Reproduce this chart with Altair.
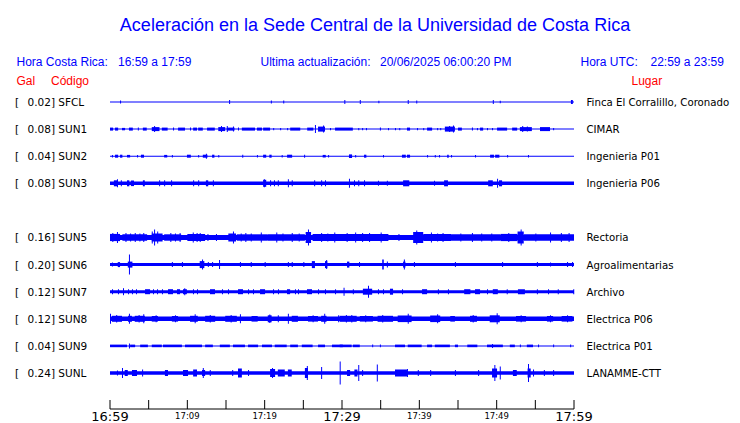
import altair as alt
import pandas as pd

# ---------------- texts ----------------
TITLE = "Aceleración en la Sede Central de la Universidad de Costa Rica"
HORA_CR = "Hora Costa Rica:"
HORA_CR_VAL = "16:59 a 17:59"
UPDATE = "Ultima actualización:"
UPDATE_VAL = "20/06/2025 06:00:20 PM"
HORA_UTC = "Hora UTC:"
HORA_UTC_VAL = "22:59 a 23:59"

# ---------------- stations ----------------
codes = ["SFCL", "SUN1", "SUN2", "SUN3", "SUN5", "SUN6", "SUN7", "SUN8", "SUN9", "SUNL"]
rows = [0, 1, 2, 3, 5, 6, 7, 8, 9, 10]
gal = ["0.02", "0.08", "0.04", "0.08", "0.16", "0.20", "0.12", "0.12", "0.04", "0.24"]
places = ["Finca El Corralillo, Coronado", "CIMAR", "Ingenieria P01", "Ingenieria P06",
          "Rectoria", "Agroalimentarias", "Archivo", "Electrica P06", "Electrica P01",
          "LANAMME-CTT"]
# background noise half-amplitude of each trace (display units)
base_amp = [0.5, 0.5, 0.5, 1.7, 2.6, 1.5, 1.5, 2.2, 0.5, 1.7]

# bursts: (minute after 16:59, duration in minutes, half-amplitude)
sfcl_bursts = [(1.3, 0.13, 1.5), (15.4, 0.13, 2), (20.8, 0.13, 1.5), (22.4, 0.13, 1.5),
               (30.3, 0.13, 2), (32.3, 0.13, 2), (34.7, 0.13, 1.2), (38.5, 0.13, 2),
               (39.6, 0.13, 1.5), (49.5, 0.13, 2), (50.4, 0.13, 1.2), (59.6, 0.25, 2)]
sun1_bursts = [(0.0, 0.4, 1.5), (0.65, 0.4, 1.5), (1.55, 0.4, 1.2), (2.45, 0.5, 1.5), (3.6, 0.13, 1.5),
               (4.25, 0.5, 1.5), (5.4, 1.0, 2), (5.7, 0.13, 3), (6.7, 0.75, 1.5), (8.15, 0.13, 1.5),
               (8.8, 0.9, 1.5), (10.35, 0.13, 1.5), (10.75, 0.5, 1.5), (11.4, 0.6, 1.5), (12.55, 1.0, 1.5),
               (14.0, 0.9, 2), (14.35, 0.13, 3), (15.1, 1.0, 1.5), (15.1, 0.13, 3), (15.9, 0.13, 2.5),
               (16.55, 0.13, 1.5), (17.05, 1.7, 1.5), (19.0, 0.65, 1.5), (19.8, 0.9, 1.5), (21.1, 0.13, 1.2),
               (22.0, 0.13, 1.2), (22.9, 0.13, 1.2), (23.3, 1.3, 1.5), (25.5, 0.8, 1.5), (26.5, 0.13, 4),
               (26.9, 0.9, 2.5), (27.55, 0.13, 3.5), (28.45, 0.13, 1.2), (29.1, 0.9, 1.5), (30.0, 1.4, 1.5),
               (32.1, 0.13, 1.2), (32.6, 0.13, 1.2), (33.1, 0.13, 1.2), (34.9, 0.13, 1.5), (35.95, 0.13, 1.2),
               (36.85, 0.13, 1.2), (37.4, 0.13, 1.2), (38.4, 0.4, 1.5), (39.7, 0.13, 1.2), (40.5, 0.13, 1.2),
               (41.0, 0.65, 1.5), (42.3, 0.13, 1.2), (42.7, 0.13, 1.2), (43.3, 1.3, 2.5), (43.85, 0.13, 3),
               (44.35, 0.13, 3.5), (45.0, 0.5, 1.5), (46.8, 0.13, 1.5), (47.45, 0.13, 1.2), (47.85, 0.4, 1.5),
               (48.75, 0.13, 1.2), (49.4, 0.13, 1.2), (50.05, 1.3, 1.5), (52.0, 0.65, 1.5), (53.0, 1.55, 2),
               (53.3, 0.13, 3), (53.9, 0.13, 2.5), (55.6, 1.3, 2), (57.3, 0.13, 1.2)]
sun2_bursts = [(0.25, 0.13, 1.2), (0.65, 0.4, 1.5), (1.3, 0.3, 1.5), (2.2, 0.4, 1.3), (3.5, 0.13, 1.2),
               (4.0, 0.4, 1.5), (7.0, 0.4, 1.3), (8.0, 0.13, 1.2), (9.95, 0.5, 1.5), (11.4, 0.13, 1.2),
               (12.0, 0.6, 1.5), (12.4, 0.13, 2.5), (13.2, 0.3, 1.5), (14.0, 0.13, 1.2), (17.1, 0.13, 1.5),
               (19.0, 0.13, 1.2), (19.8, 0.4, 1.5), (20.6, 0.3, 1.5), (22.2, 0.13, 1.2), (22.9, 0.65, 1.5),
               (25.1, 0.13, 1.5), (27.5, 0.4, 1.3), (28.2, 0.13, 1.2), (30.9, 0.4, 1.8), (31.7, 0.13, 1.2),
               (32.85, 0.3, 1.5), (35.3, 0.13, 1.2), (37.75, 0.5, 1.5), (38.4, 0.4, 1.5), (41.0, 0.13, 1.2),
               (42.0, 0.13, 1.2), (42.55, 0.13, 1.2), (43.6, 0.2, 1.5), (44.1, 0.13, 1.2), (47.2, 0.13, 1.2),
               (49.15, 0.5, 1.5), (49.8, 0.55, 1.5), (51.35, 0.13, 1.2), (54.05, 0.13, 1.2)]
sun3_bursts = [(0.5, 0.5, 3), (0.9, 0.13, 4), (1.4, 0.13, 3), (2.2, 0.3, 3), (2.7, 0.4, 2.8),
               (4.25, 0.25, 3), (6.35, 0.13, 3), (7.0, 0.13, 3), (7.9, 0.13, 3), (10.75, 0.13, 3),
               (11.4, 0.13, 3), (12.4, 0.3, 3), (13.3, 0.13, 3), (19.8, 0.4, 3.5), (19.9, 0.13, 4),
               (20.7, 0.13, 3), (21.2, 0.13, 3), (21.7, 0.13, 3), (23.0, 0.13, 4), (23.5, 0.13, 3),
               (26.4, 0.13, 3), (27.3, 0.13, 3), (27.8, 0.13, 3), (30.9, 0.13, 4.5), (31.55, 0.13, 3),
               (32.1, 0.13, 3), (32.85, 0.13, 3), (34.65, 0.13, 2.5), (35.8, 0.13, 2.5), (37.9, 0.8, 3),
               (41.9, 0.13, 2.5), (43.2, 0.5, 3), (48.9, 0.6, 3), (50.05, 0.13, 4.5), (50.3, 0.4, 3)]
sun5_bursts = [(0.0, 1.3, 3.6), (0.3, 0.13, 4.5), (0.9, 0.13, 5.5), (1.6, 3.2, 3.2), (2.0, 0.13, 4.5),
               (2.6, 0.13, 4), (3.2, 0.13, 4.5), (3.8, 0.13, 4), (4.3, 0.13, 4.5), (5.4, 1.4, 4),
               (5.7, 0.13, 8), (5.4, 0.13, 6), (6.1, 0.13, 6), (7.0, 2.2, 3.2), (7.8, 0.13, 4.5),
               (8.4, 0.13, 4), (9.0, 0.13, 4.5), (10.0, 2.3, 3.5), (10.7, 0.13, 5), (11.2, 0.13, 4.5),
               (11.6, 0.13, 4.5), (12.6, 0.13, 3.5), (13.7, 0.13, 3.5), (15.3, 1.0, 4), (15.9, 0.13, 6),
               (16.4, 4.0, 3.2), (16.9, 0.13, 4), (17.5, 0.13, 4.5), (18.2, 0.13, 4), (19.5, 0.13, 5),
               (20.4, 4.8, 3.2), (21.5, 0.13, 5), (22.3, 0.13, 4), (23.5, 0.13, 4.5), (24.4, 0.13, 4),
               (25.3, 0.7, 5.5), (25.6, 0.13, 8), (26.2, 4.5, 3.4), (27.3, 0.13, 4.5), (28.1, 0.13, 4),
               (29.0, 0.13, 5), (29.8, 6.2, 3.5), (30.6, 0.13, 4.5), (31.7, 0.13, 5), (32.6, 0.13, 4.5),
               (33.5, 0.13, 4.5), (35.0, 0.13, 5), (37.3, 0.13, 3.5), (39.2, 1.3, 5.5), (39.6, 0.13, 7),
               (40.5, 3.6, 3.5), (41.5, 0.13, 5), (42.3, 0.13, 4), (43.0, 0.13, 4.5), (44.1, 6.4, 3.2),
               (45.3, 0.13, 4), (46.8, 0.13, 4.5), (48.0, 0.13, 4), (49.3, 0.13, 4), (50.5, 2.2, 3.6),
               (51.5, 0.13, 4.5), (52.7, 0.8, 6), (53.1, 0.13, 8), (53.5, 6.5, 3.2), (55.0, 0.13, 4),
               (56.9, 0.13, 5), (58.3, 0.13, 4.5), (59.3, 0.13, 4.5)]
sun6_bursts = [(0.25, 0.13, 2), (1.0, 0.3, 2.5), (2.3, 0.6, 3), (2.45, 0.13, 10), (8.0, 0.13, 2.5),
               (9.3, 0.13, 2.5), (11.6, 0.6, 3.5), (11.9, 0.13, 5), (12.65, 0.13, 2.5), (13.2, 0.13, 2.5),
               (14.1, 0.13, 4.5), (16.8, 0.13, 2.5), (18.2, 0.13, 2.5), (20.0, 0.13, 2.5), (23.0, 0.13, 2.5),
               (23.5, 0.13, 2.5), (25.0, 0.13, 2.5), (26.1, 0.4, 3.5), (27.8, 0.3, 3.5), (27.95, 0.13, 4.5),
               (30.65, 0.3, 3), (32.2, 0.13, 2.5), (35.2, 0.2, 5), (35.8, 0.13, 3), (37.9, 0.3, 3),
               (38.0, 0.13, 5), (39.3, 0.13, 2.5), (44.6, 0.13, 2.5), (50.7, 0.13, 2.5), (55.2, 0.13, 2.5),
               (56.9, 0.13, 2), (59.1, 0.13, 2.5), (59.75, 0.13, 2.5)]
sun7_bursts = [(0.26, 0.13, 2.5), (1.03, 0.13, 2.5), (1.68, 0.13, 3.5), (2.33, 0.13, 2.5), (2.84, 0.13, 2.5),
               (3.36, 0.13, 2.5), (4.53, 0.65, 2.5), (5.56, 0.13, 2.5), (6.08, 0.13, 2.5), (6.72, 0.13, 2.5),
               (7.5, 0.65, 2.5), (8.66, 0.4, 2.5), (9.44, 0.5, 2.5), (9.6, 0.13, 3.5), (10.73, 0.13, 2.5),
               (11.25, 0.13, 2.5), (12.93, 0.65, 2.5), (14.48, 0.13, 2.5), (15.26, 0.13, 2.5), (16.55, 0.65, 2.5),
               (17.85, 0.13, 2.5), (18.49, 0.13, 2.5), (19.4, 0.65, 2.5), (21.08, 0.13, 2.5), (21.72, 0.13, 2.5),
               (22.89, 0.4, 2.5), (23.92, 0.13, 2.5), (24.31, 0.13, 2.5), (25.47, 0.65, 2.5), (26.9, 0.13, 2.5),
               (27.8, 0.13, 2.5), (29.1, 0.13, 2.5), (30.2, 0.13, 4), (31.4, 0.13, 2.5), (32.7, 1.2, 3),
               (33.36, 0.13, 6), (34.65, 0.13, 2.5), (35.3, 0.13, 2.5), (36.2, 0.4, 3), (37.76, 0.13, 2.5),
               (40.35, 0.65, 2.5), (42.4, 0.13, 2.5), (43.7, 0.13, 2.5), (45.8, 0.8, 2.5), (47.2, 0.65, 2.5),
               (48.75, 0.13, 2.5), (49.5, 0.65, 2.5), (51.3, 0.13, 2.5), (52.75, 0.9, 2.5), (55.2, 0.13, 2.5),
               (56.64, 0.13, 2.5), (57.9, 0.13, 2.5), (59.9, 0.13, 2.5)]
sun8_bursts = [(0.0, 0.13, 5), (0.25, 1.3, 3), (0.8, 0.13, 3.8), (2.33, 0.5, 3), (2.45, 0.13, 5),
               (3.2, 1.3, 3), (3.7, 0.13, 3.8), (4.3, 0.13, 4.5), (5.4, 0.8, 2.8), (5.9, 0.13, 3.5),
               (8.0, 0.8, 2.8), (8.4, 0.13, 3.5), (10.35, 1.0, 3), (10.95, 0.13, 4.5), (12.3, 1.3, 3),
               (12.9, 0.13, 3.8), (14.9, 1.5, 3), (15.6, 0.13, 3.8), (16.8, 0.13, 4.5), (18.3, 0.8, 2.8),
               (20.4, 0.5, 3.5), (20.6, 0.13, 4.2), (21.7, 0.13, 3.5), (23.0, 0.13, 5), (23.5, 0.8, 3),
               (25.6, 1.3, 2.8), (26.2, 0.13, 3.5), (27.3, 0.7, 3), (27.7, 0.13, 5), (29.5, 0.13, 3.5),
               (29.7, 2.2, 3), (30.5, 0.13, 3.8), (31.2, 0.13, 3.8), (32.3, 1.7, 2.8), (33.0, 0.13, 3.5),
               (34.6, 2.0, 3), (35.2, 0.13, 3.8), (37.2, 1.8, 3.3), (38.5, 0.13, 5), (41.4, 1.3, 3.3),
               (42.3, 0.13, 4.5), (44.0, 0.6, 2.8), (46.55, 0.9, 3), (46.9, 0.13, 3.8), (49.1, 1.3, 3.5),
               (50.0, 0.13, 5.5), (52.5, 1.3, 2.8), (53.1, 0.13, 3.5), (56.5, 0.8, 2.8), (56.9, 0.13, 3.5),
               (58.4, 1.4, 2.8), (59.1, 0.13, 3.5)]
sun9_bursts = [(0.0, 2.2, 1.3), (2.45, 0.13, 2.5), (2.6, 0.65, 1.3), (3.9, 1.0, 1.3), (5.4, 1.3, 1.3),
               (6.85, 2.45, 1.3), (9.7, 2.2, 1.3), (12.3, 1.0, 1.3), (14.2, 1.3, 1.3), (15.9, 1.55, 1.3),
               (17.85, 1.3, 1.3), (19.65, 1.3, 1.3), (21.3, 1.55, 1.3), (23.3, 1.0, 1.3), (24.8, 1.4, 1.3),
               (26.9, 0.9, 1.3), (28.7, 1.4, 1.3), (29.7, 1.55, 1.3), (31.4, 0.9, 1.3), (33.9, 0.13, 1.3),
               (34.9, 0.13, 1.3), (36.85, 1.3, 1.3), (38.5, 1.8, 1.3), (41.0, 0.65, 1.3), (42.0, 1.95, 1.3),
               (44.6, 0.4, 1.3), (46.2, 1.3, 1.3), (48.75, 2.05, 1.3), (49.4, 0.13, 2), (51.7, 0.65, 1.3),
               (53.0, 0.13, 1.3), (53.9, 0.8, 1.3), (55.35, 0.13, 1.3), (57.3, 0.13, 1.3), (59.5, 0.13, 1.3)]
sunl_bursts = [(0.9, 0.13, 2.5), (1.55, 0.13, 5), (1.9, 0.4, 3), (2.84, 0.65, 3), (4.15, 0.13, 3.5),
               (7.1, 0.4, 3), (9.44, 0.65, 3), (10.75, 0.5, 3.5), (11.9, 0.4, 3), (12.0, 0.13, 5),
               (12.9, 0.13, 3), (15.8, 0.13, 3), (16.55, 0.5, 4.5), (17.85, 0.13, 3), (20.7, 0.65, 4),
               (20.95, 0.13, 5), (21.7, 0.9, 3.5), (23.0, 0.5, 3.5), (25.2, 0.4, 5), (25.45, 0.13, 7),
               (27.3, 0.13, 6), (29.7, 0.13, 11.5), (30.65, 0.4, 3), (31.6, 0.4, 3.5), (32.1, 0.13, 8),
               (32.6, 0.13, 3), (34.5, 0.13, 8.5), (36.85, 1.55, 3.5), (38.4, 0.13, 4), (39.8, 0.13, 3),
               (41.4, 0.13, 3), (44.6, 0.13, 3), (47.6, 0.13, 3), (49.4, 0.65, 4.5), (49.7, 0.13, 8),
               (50.4, 0.13, 6.5), (52.1, 0.5, 3), (54.0, 0.4, 4.5), (54.05, 0.13, 9), (54.7, 0.13, 3.5),
               (56.1, 0.13, 3), (57.3, 0.13, 3)]
burst_lists = [sfcl_bursts, sun1_bursts, sun2_bursts, sun3_bursts, sun5_bursts,
               sun6_bursts, sun7_bursts, sun8_bursts, sun9_bursts, sunl_bursts]

# ---------------- time axis ----------------
tick_minutes = list(range(0, 61, 5))
major_ticks = [0, 30, 60]
major_labels = ["16:59", "17:29", "17:59"]
minor_ticks = [10, 20, 40, 50]
minor_labels = ["17:09", "17:19", "17:39", "17:49"]

# ---------------- build tables ----------------
AMP_PER_ROW = 27.1  # display amplitude units per trace spacing
base_df = pd.DataFrame([
    dict(code=c, x=0, x2=60, y=r - a / AMP_PER_ROW, y2=r + a / AMP_PER_ROW)
    for c, r, a in zip(codes, rows, base_amp)
])
burst_df = pd.DataFrame([
    dict(code=c, x=m, x2=m + d, y=r - a / AMP_PER_ROW, y2=r + a / AMP_PER_ROW)
    for c, r, lst in zip(codes, rows, burst_lists) for (m, d, a) in lst
])
lab_df = pd.DataFrame({
    "row": rows,
    "br": ["["] * len(rows),
    "lbl": [f"{g}] {c}" for g, c in zip(gal, codes)],
    "place": places,
})
ticks_df = pd.DataFrame({"m": tick_minutes})
axis_df = pd.DataFrame({"m": [tick_minutes[0]], "m2": [tick_minutes[-1]]})
major_df = pd.DataFrame({"m": major_ticks, "t": major_labels})
minor_df = pd.DataFrame({"m": minor_ticks, "t": minor_labels})

W, H = 724, 415
xs = alt.Scale(domain=[-13.19, 80.43], nice=False, zero=False)
ys = alt.Scale(domain=[-3.4686, 11.845], nice=False, zero=False, reverse=True)
BLUE = "#0000ff"
RED = "#ff0000"
SANS = "Liberation Sans"
DJ = "DejaVu Sans"

X = alt.X("x:Q", scale=xs, axis=None)
Y = alt.Y("y:Q", scale=ys, axis=None)
YR = alt.Y("row:Q", scale=ys, axis=None)
XM = alt.X("m:Q", scale=xs, axis=None)

base = alt.Chart(base_df).mark_rect(color=BLUE, strokeWidth=0).encode(x=X, x2="x2:Q", y=Y, y2="y2:Q")
bursts = alt.Chart(burst_df).mark_rect(color=BLUE, strokeWidth=0).encode(x=X, x2="x2:Q", y=Y, y2="y2:Q")

txt = dict(align="left", baseline="middle", font=DJ, fontSize=10.5, color="black", dy=1)
bracket = alt.Chart(lab_df).mark_text(**txt).encode(x=alt.value(7), y=YR, text="br:N")
codes_txt = alt.Chart(lab_df).mark_text(**txt).encode(x=alt.value(19.5), y=YR, text="lbl:N")
txt_r = dict(txt, fontSize=10.2)
places_txt = alt.Chart(lab_df).mark_text(**txt_r).encode(x=alt.value(578.5), y=YR, text="place:N")

axis_line = alt.Chart(axis_df).mark_rule(color="black", strokeWidth=1).encode(
    x=XM, x2="m2:Q", y=alt.value(401))
ticks = alt.Chart(ticks_df).mark_rule(color="black", strokeWidth=1).encode(
    x=XM, y=alt.value(392), y2=alt.value(401))
major_txt = alt.Chart(major_df).mark_text(align="center", baseline="alphabetic", font=DJ,
                                          fontSize=13, color="black").encode(
    x=XM, y=alt.value(412.5), text="t:N")
minor_txt = alt.Chart(minor_df).mark_text(align="center", baseline="alphabetic", font=DJ,
                                          fontSize=8.5, color="black").encode(
    x=XM, y=alt.value(411), text="t:N")


def label(s, x, y, size, color, align="left", font=SANS):
    return alt.Chart(pd.DataFrame({"t": [s]})).mark_text(
        align=align, baseline="alphabetic", font=font, fontSize=size, color=color
    ).encode(x=alt.value(x), y=alt.value(y), text="t:N")


title = label(TITLE, 367, 22.5, 18, BLUE, align="center")
h1 = label(HORA_CR, 8.5, 57.5, 12, BLUE)
h2 = label(HORA_CR_VAL, 110, 57.5, 12, BLUE)
h3 = label(UPDATE, 252.5, 57.5, 12, BLUE)
h3b = label(UPDATE_VAL, 372, 57.5, 12, BLUE)
h4 = label(HORA_UTC, 572.5, 57.5, 12, BLUE)
h5 = label(HORA_UTC_VAL, 642.5, 57.5, 12, BLUE)
g1 = label("Gal", 8.5, 77, 12, RED)
g2 = label("Código", 43, 77, 12, RED)
g3 = label("Lugar", 623.5, 77, 12, RED)

chart = alt.layer(
    base, bursts, bracket, codes_txt, places_txt, axis_line, ticks, major_txt, minor_txt,
    title, h1, h2, h3, h3b, h4, h5, g1, g2, g3
).properties(
    width=W, height=H, padding=0, autosize=alt.AutoSizeParams(type="none"), background="white"
).configure_view(strokeWidth=0)

chart.save("out.html", embed_options={"renderer": "svg", "actions": False})
